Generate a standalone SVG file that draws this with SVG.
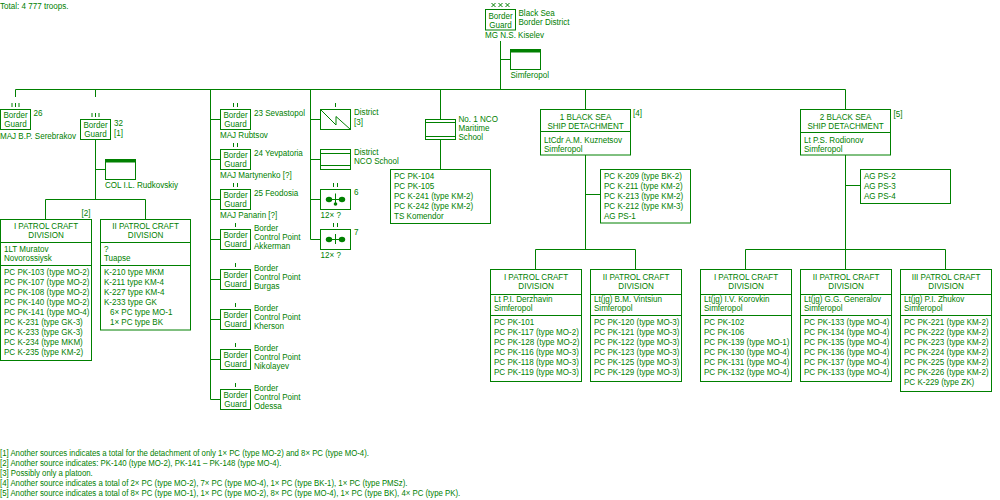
<svg xmlns="http://www.w3.org/2000/svg" width="1000" height="500" viewBox="0 0 1000 500">
<style>
.ln{fill:none;stroke:#008000;stroke-width:1}
.fl{fill:#008000;stroke:none}
.t{font-family:'Liberation Sans',Arial,sans-serif;font-size:9.5px;fill:#008000;transform:scaleX(.85);transform-box:fill-box;transform-origin:0 0}
.c{text-anchor:middle;transform-origin:50% 0}
.f{font-size:9.2px}
</style>
<rect width="1000" height="500" fill="#ffffff"/>
<text class="t" x="0" y="9">Total: 4 777 troops.</text>

<g id="connectors" class="ln">
<path d="M500.5,41 V89.5 M500.5,59.5 H510.5"/>
<path d="M15.5,89.5 H845.5 V109.5"/>
<path d="M15.5,89.5 V97 M95.5,89.5 V97"/>
<path d="M95.5,139.5 V199.5 M95.5,169.5 H105.5 M45.5,219.5 V199.5 H145.5 V219.5"/>
<path d="M210.5,89.5 V399.5 M210.5,119.5 H220.5 M210.5,159.5 H220.5 M210.5,199.5 H220.5 M210.5,239.5 H220.5 M210.5,279.5 H220.5 M210.5,319.5 H220.5 M210.5,359.5 H220.5 M210.5,399.5 H220.5"/>
<path d="M310.5,89.5 V239.5 M310.5,119.5 H320.5 M310.5,159.5 H320.5 M310.5,199.5 H320.5 M310.5,239.5 H320.5"/>
<path d="M440.5,89.5 V119.5 M440.5,139.5 V169.5"/>
<path d="M585.5,89.5 V109.5 M585.5,155 V249.5 M585.5,194.5 H600.5 M535.5,269.5 V249.5 H635.5 V269.5"/>
<path d="M845.5,155 V249.5 M845.5,185.5 H860.5 M745.5,269.5 V249.5 H945.5 V269.5 M845.5,249.5 V269.5"/>
</g>

<g id="district">
<path class="ln" d="M491.5,3 l4,4 M495.5,3 l-4,4 M498.5,3 l4,4 M502.5,3 l-4,4 M505.5,3 l4,4 M509.5,3 l-4,4"/>
<rect class="ln" x="485.5" y="9.5" width="30" height="20.5"/>
<text class="t c" x="500.5" y="18.8">Border<tspan x="500.5" dy="9">Guard</tspan></text>
<text class="t" x="518.5" y="15.7">Black Sea<tspan x="518.5" dy="9">Border District</tspan></text>
<text class="t" x="485" y="38">MG  N.S. Kiselev</text>
</g>
<g id="district-hq">
<rect class="ln" x="510.5" y="49.5" width="30" height="20"/>
<rect class="fl" x="510.5" y="49.5" width="30.5" height="3"/>
<text class="t" x="510.5" y="78.5">Simferopol</text>
</g>

<g id="bg26">
<path class="ln" d="M12,103 V107 M15.5,103 V107 M19,103 V107"/>
<rect class="ln" x="0.5" y="109.5" width="30" height="20"/>
<text class="t c" x="15.5" y="118.3">Border<tspan x="15.5" dy="9">Guard</tspan></text>
<text class="t" x="33.5" y="116">26</text>
<text class="t" x="0" y="139">MAJ  B.P. Serebrakov</text>
</g>
<g id="bg32">
<path class="ln" d="M92,113 V117 M95.5,113 V117 M99,113 V117"/>
<rect class="ln" x="80.5" y="119.5" width="30" height="20"/>
<text class="t c" x="95.5" y="128.3">Border<tspan x="95.5" dy="9">Guard</tspan></text>
<text class="t" x="114" y="126">32<tspan x="114" dy="10">[1]</tspan></text>
</g>
<g id="bg32-hq">
<rect class="ln" x="105.5" y="159.5" width="30" height="20"/>
<rect class="fl" x="105.5" y="159.5" width="30.5" height="3"/>
<text class="t" x="105" y="188">COL  I.L. Rudkovskiy</text>
</g>
<g id="div-novorossiysk">
<text class="t" x="81.5" y="216">[2]</text>
<rect class="ln" x="0.5" y="219.5" width="91" height="141"/>
<path class="ln" d="M0.5,242.5 H91.5 M0.5,265.5 H91.5"/>
<text class="t c" x="46" y="229.3">I PATROL CRAFT<tspan x="46" dy="9">DIVISION</tspan></text>
<text class="t" x="4" y="252.3">1LT  Muratov<tspan x="4" dy="9">Novorossiysk</tspan></text>
<text class="t" x="4" y="275.5"><tspan x="4">PC PK-103 (type MO-2)</tspan><tspan x="4" dy="10">PC PK-107 (type MO-2)</tspan><tspan x="4" dy="10">PC PK-108 (type MO-2)</tspan><tspan x="4" dy="10">PC PK-140 (type MO-2)</tspan><tspan x="4" dy="10">PC PK-141 (type MO-4)</tspan><tspan x="4" dy="10">PC K-231  (type GK-3)</tspan><tspan x="4" dy="10">PC K-233 (type GK-3)</tspan><tspan x="4" dy="10">PC K-234 (type MKM)</tspan><tspan x="4" dy="10">PC K-235 (type KM-2)</tspan></text>
</g>
<g id="div-tuapse">
<rect class="ln" x="100.5" y="219.5" width="90" height="110.5"/>
<path class="ln" d="M100.5,242.5 H190.5 M100.5,265.5 H190.5"/>
<text class="t c" x="145.5" y="229.3">II PATROL CRAFT<tspan x="145.5" dy="9">DIVISION</tspan></text>
<text class="t" x="104" y="252.3">?<tspan x="104" dy="9">Tuapse</tspan></text>
<text class="t" x="104" y="275.5"><tspan x="104">K-210 type MKM</tspan><tspan x="104" dy="10">K-211 type KM-4</tspan><tspan x="104" dy="10">K-227 type KM-4</tspan><tspan x="104" dy="10">K-233 type GK</tspan><tspan x="111" dy="10">6× PC type MO-1</tspan><tspan x="111" dy="10">1× PC type BK</tspan></text>
</g>

<g id="bg23">
<path class="ln" d="M233.5,103 V107 M237.5,103 V107"/>
<rect class="ln" x="220.5" y="109.5" width="30" height="20"/>
<text class="t c" x="235.5" y="118.3">Border<tspan x="235.5" dy="9">Guard</tspan></text>
<text class="t" x="254" y="116">23 Sevastopol</text>
<text class="t" x="220" y="138.5">MAJ  Rubtsov</text>
</g>
<g id="bg24">
<path class="ln" d="M233.5,143 V147 M237.5,143 V147"/>
<rect class="ln" x="220.5" y="149.5" width="30" height="20"/>
<text class="t c" x="235.5" y="158.3">Border<tspan x="235.5" dy="9">Guard</tspan></text>
<text class="t" x="254" y="156">24 Yevpatoria</text>
<text class="t" x="220" y="178.5">MAJ  Martynenko [?]</text>
</g>
<g id="bg25">
<path class="ln" d="M233.5,183 V187 M237.5,183 V187"/>
<rect class="ln" x="220.5" y="189.5" width="30" height="20"/>
<text class="t c" x="235.5" y="198.3">Border<tspan x="235.5" dy="9">Guard</tspan></text>
<text class="t" x="254" y="196">25 Feodosia</text>
<text class="t" x="220" y="218.5">MAJ  Panarin [?]</text>
</g>
<g id="bcp-akkerman">
<path class="ln" d="M235.5,223 V227"/>
<rect class="ln" x="220.5" y="229.5" width="30" height="20"/>
<text class="t c" x="235.5" y="238.3">Border<tspan x="235.5" dy="9">Guard</tspan></text>
<text class="t" x="254" y="231.5">Border<tspan x="254" dy="9">Control Point</tspan><tspan x="254" dy="9">Akkerman</tspan></text>
</g>
<g id="bcp-burgas">
<path class="ln" d="M235.5,263 V267"/>
<rect class="ln" x="220.5" y="269.5" width="30" height="20"/>
<text class="t c" x="235.5" y="278.3">Border<tspan x="235.5" dy="9">Guard</tspan></text>
<text class="t" x="254" y="271.5">Border<tspan x="254" dy="9">Control Point</tspan><tspan x="254" dy="9">Burgas</tspan></text>
</g>
<g id="bcp-kherson">
<path class="ln" d="M235.5,303 V307"/>
<rect class="ln" x="220.5" y="309.5" width="30" height="20"/>
<text class="t c" x="235.5" y="318.3">Border<tspan x="235.5" dy="9">Guard</tspan></text>
<text class="t" x="254" y="311.5">Border<tspan x="254" dy="9">Control Point</tspan><tspan x="254" dy="9">Kherson</tspan></text>
</g>
<g id="bcp-nikolayev">
<path class="ln" d="M235.5,343 V347"/>
<rect class="ln" x="220.5" y="349.5" width="30" height="20"/>
<text class="t c" x="235.5" y="358.3">Border<tspan x="235.5" dy="9">Guard</tspan></text>
<text class="t" x="254" y="351.5">Border<tspan x="254" dy="9">Control Point</tspan><tspan x="254" dy="9">Nikolayev</tspan></text>
</g>
<g id="bcp-odessa">
<path class="ln" d="M235.5,383 V387"/>
<rect class="ln" x="220.5" y="389.5" width="30" height="20"/>
<text class="t c" x="235.5" y="398.3">Border<tspan x="235.5" dy="9">Guard</tspan></text>
<text class="t" x="254" y="391.5">Border<tspan x="254" dy="9">Control Point</tspan><tspan x="254" dy="9">Odessa</tspan></text>
</g>

<g id="signal">
<path class="ln" d="M335.5,103 V107"/>
<rect class="ln" x="320.5" y="109.5" width="30" height="20"/>
<path class="ln" d="M320.5,109.5 L336,125 V116.5 L350.5,129.5"/>
<text class="t" x="354" y="115">District<tspan x="354" dy="10">[3]</tspan></text>
</g>
<g id="nco-district">
<rect class="ln" x="320.5" y="149.5" width="30" height="20"/>
<path class="ln" d="M320.5,153.5 H350.5 M320.5,165.5 H350.5"/>
<text class="t" x="354" y="155.5">District<tspan x="354" dy="9">NCO School</tspan></text>
</g>
<g id="unit6">
<path class="ln" d="M333.5,183 V187 M337.5,183 V187"/>
<rect class="ln" x="320.5" y="189.5" width="30" height="20"/>
<path class="ln" d="M329,199.5 H342 M335.5,193.5 V205"/>
<ellipse class="fl" cx="329" cy="199.5" rx="3.2" ry="2.8"/>
<ellipse class="fl" cx="342" cy="199.5" rx="3.2" ry="2.8"/>
<circle class="fl" cx="335.5" cy="204" r="1.8"/>
<text class="t" x="354" y="195">6</text>
<text class="t" x="320.5" y="218.5">12× ?</text>
</g>
<g id="unit7">
<path class="ln" d="M333.5,223 V227 M337.5,223 V227"/>
<rect class="ln" x="320.5" y="229.5" width="30" height="20"/>
<path class="ln" d="M329,239.5 H342 M335.5,234 V244"/>
<ellipse class="fl" cx="329" cy="239.5" rx="3.2" ry="2.8"/>
<ellipse class="fl" cx="342" cy="239.5" rx="3.2" ry="2.8"/>
<text class="t" x="354" y="235">7</text>
<text class="t" x="320.5" y="258.5">12× ?</text>
</g>

<g id="nco-maritime">
<rect class="ln" x="425.5" y="119.5" width="30" height="20"/>
<path class="ln" d="M425.5,122.5 H455.5 M425.5,136.5 H455.5"/>
<text class="t" x="458.5" y="122">No. 1 NCO<tspan x="458.5" dy="9">Maritime</tspan><tspan x="458.5" dy="9">School</tspan></text>
</g>
<g id="nco-ships">
<rect class="ln" x="390.5" y="169.5" width="100" height="54"/>
<text class="t" x="394" y="179"><tspan x="394">PC PK-104</tspan><tspan x="394" dy="10">PC PK-105</tspan><tspan x="394" dy="10">PC K-241 (type KM-2)</tspan><tspan x="394" dy="10">PC K-242 (type KM-2)</tspan><tspan x="394" dy="10">TS Komendor</tspan></text>
</g>

<g id="det1">
<rect class="ln" x="540.5" y="109.5" width="90" height="45.5"/>
<path class="ln" d="M540.5,131.5 H630.5"/>
<text class="t c" x="585.5" y="120">1 BLACK SEA<tspan x="585.5" dy="9">SHIP DETACHMENT</tspan></text>
<text class="t" x="544" y="142.8">LtCdr  A.M. Kuznetsov<tspan x="544" dy="9">Simferopol</tspan></text>
<text class="t" x="633" y="116">[4]</text>
</g>
<g id="det1-ships">
<rect class="ln" x="600.5" y="169.5" width="90" height="53.5"/>
<text class="t" x="604" y="179"><tspan x="604">PC K-209 (type BK-2)</tspan><tspan x="604" dy="10">PC K-211 (type KM-2)</tspan><tspan x="604" dy="10">PC K-213 (type KM-2)</tspan><tspan x="604" dy="10">PC K-212 (type KM-3)</tspan><tspan x="604" dy="10">AG PS-1</tspan></text>
</g>
<g id="det1-div1">
<rect class="ln" x="490.5" y="269.5" width="91" height="112"/>
<path class="ln" d="M490.5,294.5 H581.5 M490.5,315.5 H581.5"/>
<text class="t c" x="536" y="279.7">I PATROL CRAFT<tspan x="536" dy="9">DIVISION</tspan></text>
<text class="t" x="494" y="302.3">Lt  P.I. Derzhavin<tspan x="494" dy="9">Simferopol</tspan></text>
<text class="t" x="494" y="325.5"><tspan x="494">PC PK-101</tspan><tspan x="494" dy="10">PC PK-117 (type MO-2)</tspan><tspan x="494" dy="10">PC PK-128 (type MO-2)</tspan><tspan x="494" dy="10">PC PK-116 (type MO-3)</tspan><tspan x="494" dy="10">PC PK-118 (type MO-3)</tspan><tspan x="494" dy="10">PC PK-119 (type MO-3)</tspan></text>
</g>
<g id="det1-div2">
<rect class="ln" x="590.5" y="269.5" width="91" height="112"/>
<path class="ln" d="M590.5,294.5 H681.5 M590.5,315.5 H681.5"/>
<text class="t c" x="636" y="279.7">II PATROL CRAFT<tspan x="636" dy="9">DIVISION</tspan></text>
<text class="t" x="594" y="302.3">Lt(jg)  B.M. Vintsiun<tspan x="594" dy="9">Simferopol</tspan></text>
<text class="t" x="594" y="325.5"><tspan x="594">PC PK-120 (type MO-3)</tspan><tspan x="594" dy="10">PC PK-121 (type MO-3)</tspan><tspan x="594" dy="10">PC PK-122 (type MO-3)</tspan><tspan x="594" dy="10">PC PK-123 (type MO-3)</tspan><tspan x="594" dy="10">PC PK-125 (type MO-3)</tspan><tspan x="594" dy="10">PC PK-129 (type MO-3)</tspan></text>
</g>

<g id="det2">
<rect class="ln" x="800.5" y="109.5" width="90" height="45.5"/>
<path class="ln" d="M800.5,132.5 H890.5"/>
<text class="t c" x="845.5" y="120">2 BLACK SEA<tspan x="845.5" dy="9">SHIP DETACHMENT</tspan></text>
<text class="t" x="804" y="143.3">Lt  P.S. Rodionov<tspan x="804" dy="9">Simferopol</tspan></text>
<text class="t" x="893.5" y="117">[5]</text>
</g>
<g id="det2-ships">
<rect class="ln" x="860.5" y="169.5" width="90" height="34"/>
<text class="t" x="864" y="179"><tspan x="864">AG PS-2</tspan><tspan x="864" dy="10">AG PS-3</tspan><tspan x="864" dy="10">AG PS-4</tspan></text>
</g>
<g id="det2-div1">
<rect class="ln" x="700.5" y="269.5" width="91" height="112"/>
<path class="ln" d="M700.5,294.5 H791.5 M700.5,315.5 H791.5"/>
<text class="t c" x="746" y="279.7">I PATROL CRAFT<tspan x="746" dy="9">DIVISION</tspan></text>
<text class="t" x="704" y="302.3">Lt(jg)  I.V. Korovkin<tspan x="704" dy="9">Simferopol</tspan></text>
<text class="t" x="704" y="325.5"><tspan x="704">PC PK-102</tspan><tspan x="704" dy="10">PC PK-106</tspan><tspan x="704" dy="10">PC PK-139 (type MO-1)</tspan><tspan x="704" dy="10">PC PK-130 (type MO-4)</tspan><tspan x="704" dy="10">PC PK-131 (type MO-4)</tspan><tspan x="704" dy="10">PC PK-132 (type MO-4)</tspan></text>
</g>
<g id="det2-div2">
<rect class="ln" x="800.5" y="269.5" width="91" height="112"/>
<path class="ln" d="M800.5,294.5 H891.5 M800.5,315.5 H891.5"/>
<text class="t c" x="846" y="279.7">II PATROL CRAFT<tspan x="846" dy="9">DIVISION</tspan></text>
<text class="t" x="804" y="302.3">Lt(jg)  G.G. Generalov<tspan x="804" dy="9">Simferopol</tspan></text>
<text class="t" x="804" y="325.5"><tspan x="804">PC PK-133 (type MO-4)</tspan><tspan x="804" dy="10">PC PK-134 (type MO-4)</tspan><tspan x="804" dy="10">PC PK-135 (type MO-4)</tspan><tspan x="804" dy="10">PC PK-136 (type MO-4)</tspan><tspan x="804" dy="10">PC PK-137 (type MO-4)</tspan><tspan x="804" dy="10">PC PK-133 (type MO-4)</tspan></text>
</g>
<g id="det2-div3">
<rect class="ln" x="900.5" y="269.5" width="91" height="122"/>
<path class="ln" d="M900.5,294.5 H991.5 M900.5,315.5 H991.5"/>
<text class="t c" x="946" y="279.7">III PATROL CRAFT<tspan x="946" dy="9">DIVISION</tspan></text>
<text class="t" x="904" y="302.3">Lt(jg)  P.I. Zhukov<tspan x="904" dy="9">Simferopol</tspan></text>
<text class="t" x="904" y="325.5"><tspan x="904">PC PK-221 (type KM-2)</tspan><tspan x="904" dy="10">PC PK-222 (type KM-2)</tspan><tspan x="904" dy="10">PC PK-223 (type KM-2)</tspan><tspan x="904" dy="10">PC PK-224 (type KM-2)</tspan><tspan x="904" dy="10">PC PK-225 (type KM-2)</tspan><tspan x="904" dy="10">PC PK-226 (type KM-2)</tspan><tspan x="904" dy="10">PC K-229 (type ZK)</tspan></text>
</g>

<g id="footnotes">
<text class="t f" x="0" y="456.5">[1] Another sources indicates a total for the detachment of only 1× PC (type MO-2) and 8× PC (type MO-4).</text>
<text class="t f" x="0" y="466.5">[2] Another source indicates: PK-140 (type MO-2), PK-141 – PK-148 (type MO-4).</text>
<text class="t f" x="0" y="476.5">[3] Possibly only a platoon.</text>
<text class="t f" x="0" y="486.5">[4] Another source indicates a total of 2× PC (type MO-2), 7× PC (type MO-4), 1× PC (type BK-1), 1× PC (type PMSz).</text>
<text class="t f" x="0" y="496.5">[5] Another source indicates a total of 8× PC (type MO-1), 1× PC (type MO-2), 8× PC (type MO-4), 1× PC (type BK), 4× PC (type PK).</text>
</g>
</svg>
